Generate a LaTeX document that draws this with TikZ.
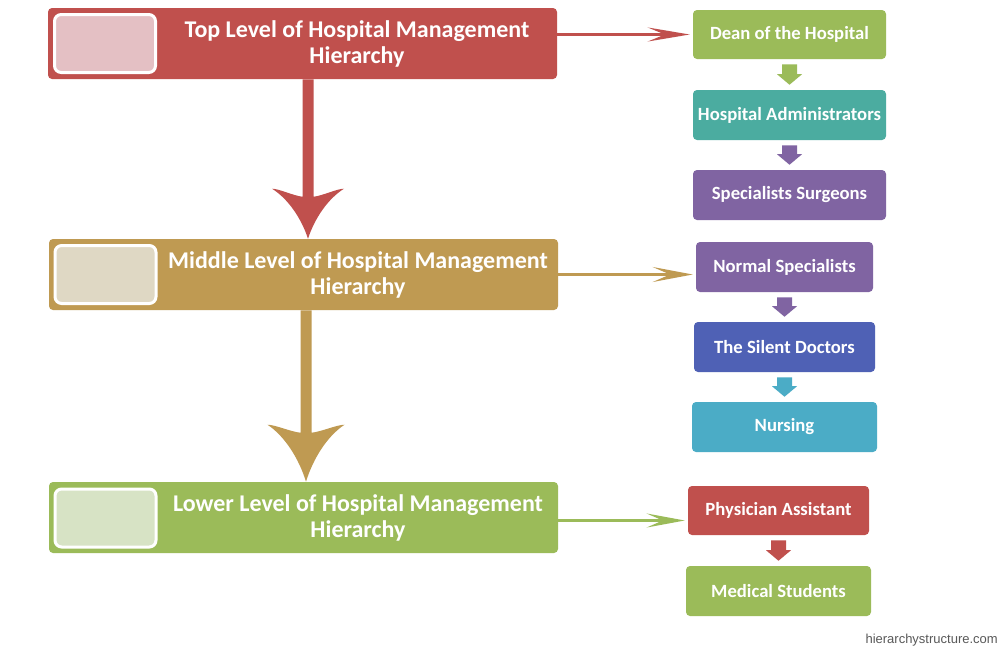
\documentclass[tikz,border=0pt]{standalone}
\usepackage{fontspec}
\setmainfont{Carlito}
\newfontfamily\wmfont{Liberation Sans}
\usetikzlibrary{arrows.meta,calc}
\definecolor{cred}{HTML}{C0504D}
\definecolor{ctan}{HTML}{BF9A52}
\definecolor{cgreen}{HTML}{9BBB59}
\definecolor{cteal}{HTML}{4BACA0}
\definecolor{cpurple}{HTML}{8064A2}
\definecolor{cblue}{HTML}{4F61B5}
\definecolor{ccyan}{HTML}{4BACC6}
\definecolor{inred}{HTML}{E4C0C4}
\definecolor{intan}{HTML}{DFD8C4}
\definecolor{ingreen}{HTML}{D7E3C5}
\newcommand\bigarr[6]{% #1 start, #2 tip, #3 colour, #4 half wing, #5 wing height, #6 notch height
  \fill[#3] ($(#1)+(-5.5,0)$) -- ($(#2)+(-5.5,-#6)$)
    .. controls ($(#2)+({-5.5-0.3*(#4-5.5)},{-#6-1})$) and ($(#2)+({-0.8*#4},-#5)$) .. ($(#2)+(-#4,-#5)$)
    .. controls ($(#2)+({-0.55*#4},{-0.8*#5})$) and ($(#2)+({-0.18*#4},{-0.4*#5})$) .. (#2)
    .. controls ($(#2)+({0.18*#4},{-0.4*#5})$) and ($(#2)+({0.55*#4},{-0.8*#5})$) .. ($(#2)+(#4,-#5)$)
    .. controls ($(#2)+({0.8*#4},-#5)$) and ($(#2)+({5.5+0.3*(#4-5.5)},{-#6-1})$) .. ($(#2)+(5.5,-#6)$)
    -- ($(#1)+(5.5,0)$) -- cycle;}
\begin{document}
\begin{tikzpicture}[x=0.75pt,y=-0.75pt,
  lvlbox/.style={rounded corners=3pt, minimum width=381.75pt, minimum height=53.25pt, inner sep=0pt},
  inbox/.style={draw=white, line width=2.25pt, rounded corners=5pt, minimum width=75.75pt, minimum height=43.5pt, inner sep=0pt},
  lvltext/.style={text=white, align=center, font=\bfseries\fontsize{18}{19.5}\selectfont, inner sep=0pt},
  rbox/.style={rounded corners=3pt, text=white, font=\bfseries\fontsize{14}{16}\selectfont, minimum height=37.5pt, inner sep=0pt},
  hline/.style={line width=2.25pt},
]
\useasboundingbox (0,0) rectangle (1000,650);
\fill[white] (0,0) rectangle (1000,650);

% level boxes
\node[lvlbox, fill=cred] (top) at (302.5,43.5) {};
\node[lvlbox, fill=ctan] (mid) at (303.5,274.5) {};
\node[lvlbox, fill=cgreen] (low) at (303.5,517.5) {};
\node[inbox, fill=inred] (topin) at (105,43.5) {};
\node[inbox, fill=intan] (midin) at (105.5,274.5) {};
\node[inbox, fill=ingreen] (lowin) at (105.5,518) {};
\node[lvltext] (toptext) at (357,44) {Top Level of Hospital Management\\Hierarchy};
\node[lvltext] (midtext) at (358,275) {Middle Level of Hospital Management\\Hierarchy};
\node[lvltext] (lowtext) at (358,517.5) {Lower Level of Hospital Management\\Hierarchy};

% right boxes
\node[rbox, fill=cgreen, minimum width=144.75pt, minimum height=36.75pt] (dean) at (789.5,34.5) {Dean of the Hospital};
\node[rbox, fill=cteal, minimum width=144.75pt] (admin) at (789.5,115) {Hospital Administrators};
\node[rbox, fill=cpurple, minimum width=144.75pt] (surg) at (789.5,195) {Specialists Surgeons};
\node[rbox, fill=cpurple, minimum width=132.75pt] (norm) at (784.5,267) {Normal Specialists};
\node[rbox, fill=cblue, minimum width=135.75pt] (silent) at (784.5,347) {The Silent Doctors};
\node[rbox, fill=ccyan, minimum width=138.75pt] (nurs) at (784.5,427) {Nursing};
\node[rbox, fill=cred, minimum width=135.75pt, minimum height=36.75pt] (phys) at (778.5,510.5) {Physician Assistant};
\node[rbox, fill=cgreen, minimum width=138.75pt] (med) at (778.5,591) {Medical Students};

% big vertical arrows
\coordinate (ra) at ($(top.south)+(5.5,0)$);
\coordinate (rt) at (ra |- mid.north);
\bigarr{ra}{rt}{cred}{36}{50}{42}
\coordinate (ta) at ($(mid.south)+(2.5,0)$);
\coordinate (tt) at (ta |- low.north);
\bigarr{ta}{tt}{ctan}{38.5}{57}{49}

% horizontal arrows
\draw[hline, cred, shorten >=2.25pt, -{Stealth[length=31.5pt,width=10.5pt,inset=13pt]}] (top.east |- dean.west) -- (dean.west);
\draw[hline, ctan, shorten >=2.25pt, -{Stealth[length=30pt,width=11.25pt,inset=13pt]}] (mid.east) -- (mid.east -| norm.west);
\coordinate (ge) at ($(low.east)+(0,3)$);
\draw[hline, cgreen, shorten >=2.25pt, -{Stealth[length=28.5pt,width=10.5pt,inset=12pt]}] (ge) -- (ge -| phys.west);

% small block arrows
\foreach \a/\b/\c in {dean/admin/cgreen, admin/surg/cpurple, norm/silent/cpurple, silent/nurs/ccyan, phys/med/cred}{
  \fill[\c] ($(\a.south)+(-7.5,5)$) -- ($(\a.south)+(7.5,5)$) -- ($(\b.north -| \a.south)+(7.5,-15.5)$)
    -- ($(\b.north -| \a.south)+(12.5,-15.5)$) -- ($(\b.north -| \a.south)+(0,-5)$)
    -- ($(\b.north -| \a.south)+(-12.5,-15.5)$) -- ($(\b.north -| \a.south)+(-7.5,-15.5)$) -- cycle;
}

% watermark
\node[anchor=east, inner sep=0pt, text=black!65, font=\wmfont\fontsize{9.75}{11}\selectfont] (wm) at (998,640) {hierarchystructure.com};
\end{tikzpicture}
\end{document}
